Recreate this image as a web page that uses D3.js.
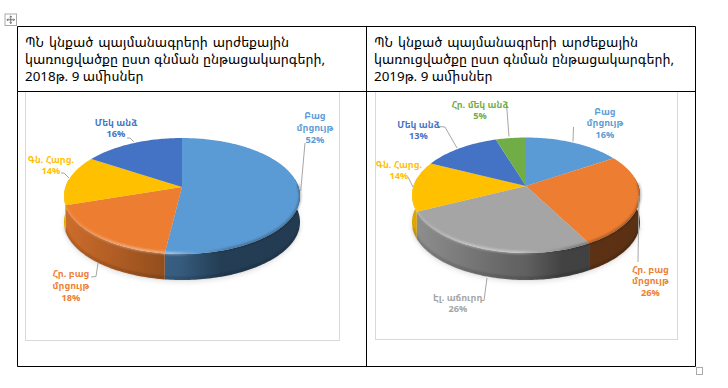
<!DOCTYPE html>
<html>
<head>
<meta charset="utf-8">
<script src="https://cdn.jsdelivr.net/npm/d3@7"></script>
<style>
  html, body { margin: 0; padding: 0; background: #fff; }
  svg { display: block; }
  text { font-family: "Noto Sans Armenian", "DejaVu Sans", sans-serif; }
</style>
</head>
<body>
<div id="chart"></div>
<script>
// left pie, 2018
const labels2018 = [['Բաց', 'մրցույթ'], ['Հր. բաց', 'մրցույթ'], ['Գն. Հարց.'], ['Մեկ անձ']];
const values2018 = [52, 18, 14, 16];
const colors2018 = ['#5b9bd5', '#ed7d31', '#ffc000', '#4472c4'];

// right pie, 2019
const labels2019 = [['Բաց', 'մրցույթ'], ['Հր. բաց', 'մրցույթ'], ['Էլ. աճուրդ'], ['Գն. Հարց.'], ['Մեկ անձ'], ['Հր. մեկ անձ']];
const values2019 = [16, 26, 26, 14, 13, 5];
const colors2019 = ['#5b9bd5', '#ed7d31', '#a5a5a5', '#ffc000', '#4472c4', '#70ad47'];

const titleLines2018 = ['ՊՆ կնքած պայմանագրերի արժեքային', 'կառուցվածքը ըստ գնման ընթացակարգերի,', '2018թ. 9 ամիսներ'];
const titleLines2019 = ['ՊՆ կնքած պայմանագրերի արժեքային', 'կառուցվածքը ըստ գնման ընթացակարգերի,', '2019թ. 9 ամիսներ'];

const svg = d3.select('#chart').append('svg').attr('width', 728).attr('height', 388);
const defs = svg.append('defs');
defs.append('filter').attr('id', 'soft').attr('x', '-20%').attr('y', '-20%').attr('width', '140%').attr('height', '140%')
  .append('feGaussianBlur').attr('stdDeviation', 2.5);
defs.append('filter').attr('id', 'rim').attr('filterUnits', 'userSpaceOnUse')
  .attr('x', 0).attr('y', 0).attr('width', 728).attr('height', 388)
  .append('feGaussianBlur').attr('stdDeviation', 1);

/* ---------- pies ---------- */

// how much of the base colour survives on the wall, left to right across the pie
const wallShade = [[0, 0.87], [0.42, 0.62], [0.5, 0.58], [0.66, 0.4], [1, 0.38]];
// rim bevel, light on the left front, dark on the right front
const bevelStops = [
  [0, '#fff', 0.08], [0.25, '#fff', 0.4], [0.47, '#fff', 0.45], [0.56, '#fff', 0],
  [0.58, '#000', 0], [0.72, '#000', 0.3], [1, '#000', 0.3],
];

function drawPie(cfg) {
  const { values, colors, labels, cx, cy, rx, top, bottom, depth, frame, placed } = cfg;

  svg.append('rect').attr('x', frame[0]).attr('y', frame[1]).attr('width', frame[2] - frame[0]).attr('height', frame[3] - frame[1])
    .attr('fill', '#fff').attr('stroke', '#d9d9d9');

  // projective map, near edge is bigger than far edge
  const upper = cy - top, lower = bottom - cy;
  const k = (lower - upper) / (lower + upper);
  const h = upper * (1 + k);
  const R = rx * Math.sqrt(1 - k * k);
  const project = (a, extra = 0) => {
    const u = Math.sin(a), v = -Math.cos(a), w = 1 - k * v;
    return [cx + R * u / w, cy + h * v / w + extra];
  };
  const line = d3.line();
  const arcPts = (a0, a1, extra = 0) => {
    const n = Math.max(2, Math.ceil((a1 - a0) / 0.02));
    return d3.range(n + 1).map(i => project(a0 + (a1 - a0) * i / n, extra));
  };
  const pieGradient = id => defs.append('linearGradient').attr('id', id).attr('gradientUnits', 'userSpaceOnUse')
    .attr('x1', cx - rx).attr('x2', cx + rx).attr('y1', 0).attr('y2', 0);

  const arcs = d3.pie().sort(null)(values);

  // soft floor shadow
  svg.append('path').attr('d', line(arcPts(0, 2 * Math.PI, depth + 2)) + 'Z')
    .attr('fill', '#b5b5b5').attr('opacity', 0.4).attr('filter', 'url(#soft)');

  // side walls, only the part facing the viewer
  const frontFrom = Math.PI / 2 - Math.asin(k), frontTo = 3 * Math.PI / 2 + Math.asin(k);
  arcs.forEach((d, i) => {
    const a0 = Math.max(d.startAngle, frontFrom), a1 = Math.min(d.endAngle, frontTo);
    if (a1 <= a0) return;
    const id = `side-${cfg.id}-${i}`;
    const base = d3.rgb(colors[i]);
    const grad = pieGradient(id);
    wallShade.forEach(s => {
      grad.append('stop').attr('offset', s[0])
        .attr('stop-color', d3.rgb(base.r * s[1], base.g * s[1], base.b * s[1]).formatHex());
    });
    svg.append('path').attr('d', line(arcPts(a0, a1).concat(arcPts(a0, a1, depth).reverse())) + 'Z')
      .attr('fill', `url(#${id})`);
  });

  // dark lower edge of the wall, stops short of the sides so it does not spill on the page
  svg.append('path').attr('d', line(arcPts(frontFrom + 0.45, frontTo - 0.45, depth - 2))).attr('fill', 'none')
    .attr('stroke', '#000').attr('stroke-opacity', 0.2).attr('stroke-width', 2).attr('filter', 'url(#rim)');

  // top faces
  arcs.forEach((d, i) => {
    const pts = [[cx, cy]].concat(arcPts(d.startAngle, d.endAngle));
    svg.append('path').attr('d', line(pts) + 'Z').attr('fill', colors[i]);
  });

  // bevel along front rim
  const bevelId = `bevel-${cfg.id}`;
  const bevel = pieGradient(bevelId);
  bevelStops.forEach(s => {
    bevel.append('stop').attr('offset', s[0]).attr('stop-color', s[1]).attr('stop-opacity', s[2]);
  });
  svg.append('path').attr('d', line(arcPts(frontFrom + 0.12, frontTo - 0.12, -0.5))).attr('fill', 'none')
    .attr('stroke', `url(#${bevelId})`).attr('stroke-width', 2.4).attr('filter', 'url(#rim)');

  // labels and leaders
  arcs.forEach((d, i) => {
    const p = placed[i];
    svg.append('path').attr('d', line(p.leader)).attr('fill', 'none').attr('stroke', '#a6a6a6');
    const t = svg.append('text').attr('text-anchor', 'middle').attr('font-size', 9.2)
      .attr('font-weight', 700).attr('fill', colors[i]);
    labels[i].concat([`${values[i]}%`]).forEach((s, j) => {
      t.append('tspan').attr('x', p.x).attr('y', p.y + j * 11.8).text(s);
    });
  });
}

drawPie({
  id: 'a', values: values2018, colors: colors2018, labels: labels2018,
  cx: 182, cy: 187, rx: 118, top: 138, bottom: 254, depth: 26,
  frame: [25.5, 91.5, 339.5, 340.5],
  placed: [
    { x: 315, y: 119, leader: [[305, 143], [300.7, 191]] },
    { x: 71, y: 277, leader: [[91, 277], [96, 276.5], [98, 263]] },
    { x: 51, y: 162.5, leader: [[61, 173], [64, 173], [69, 178]] },
    { x: 116, y: 125.5, leader: [[127, 138], [130, 138], [134, 142]] },
  ],
});

drawPie({
  id: 'b', values: values2019, colors: colors2019, labels: labels2019,
  cx: 526, cy: 186, rx: 114, top: 137.5, bottom: 253, depth: 27,
  frame: [375.5, 91.5, 677.5, 339.5],
  placed: [
    { x: 605, y: 114.5, leader: [[573.5, 127], [573, 141.5]] },
    { x: 650.5, y: 272.5, leader: [[638, 262], [639, 196]] },
    { x: 458, y: 300.5, leader: [[481, 300.5], [484, 300.5], [487, 278]] },
    { x: 399, y: 167.5, leader: [[408, 177], [413, 187]] },
    { x: 418.5, y: 127.5, leader: [[438, 126.5], [445, 127], [457, 148]] },
    { x: 480, y: 107.5, leader: [[506.5, 104], [509, 136.5]] },
  ],
});

/* ---------- table ---------- */
const table = svg.append('g').attr('fill', 'none').attr('stroke', '#000').attr('stroke-width', 1);
[[17.5, 26.5, 695.5, 26.5], [17.5, 91.5, 695.5, 91.5], [17.5, 366.5, 695.5, 366.5],
 [17.5, 26.5, 17.5, 366.5], [366.5, 26.5, 366.5, 366.5], [695.5, 26.5, 695.5, 366.5]].forEach(l => {
  table.append('line').attr('x1', l[0]).attr('y1', l[1]).attr('x2', l[2]).attr('y2', l[3]);
});

// first two lines are justified in the cell, the last one is not
function drawTitle(lines, x) {
  const widths = [264, 300];
  lines.forEach((line, i) => {
    const t = svg.append('text').attr('x', x).attr('y', 46.5 + i * 17.2)
      .attr('font-size', 13.4).attr('fill', '#000').text(line);
    if (widths[i]) {
      const gaps = line.split(' ').length - 1;
      t.attr('word-spacing', (widths[i] - t.node().getComputedTextLength()) / gaps);
    }
  });
}
drawTitle(titleLines2018, 25);
drawTitle(titleLines2019, 374);

/* ---------- move / resize handles ---------- */
svg.append('rect').attr('x', 5).attr('y', 14).attr('width', 11.5).attr('height', 11.5)
  .attr('fill', '#fff').attr('stroke', '#aaa');
svg.append('path')
  .attr('d', 'M10.75 16V23.5M7 19.75H14.5M9.5 17.2L10.75 16L12 17.2M9.5 22.3L10.75 23.5L12 22.3M8.2 18.5L7 19.75L8.2 21M13.3 18.5L14.5 19.75L13.3 21')
  .attr('fill', 'none').attr('stroke', '#555').attr('stroke-width', 0.8);
svg.append('rect').attr('x', 696.5).attr('y', 367.5).attr('width', 6).attr('height', 7)
  .attr('fill', '#fff').attr('stroke', '#aaa');
</script>
</body>
</html>
